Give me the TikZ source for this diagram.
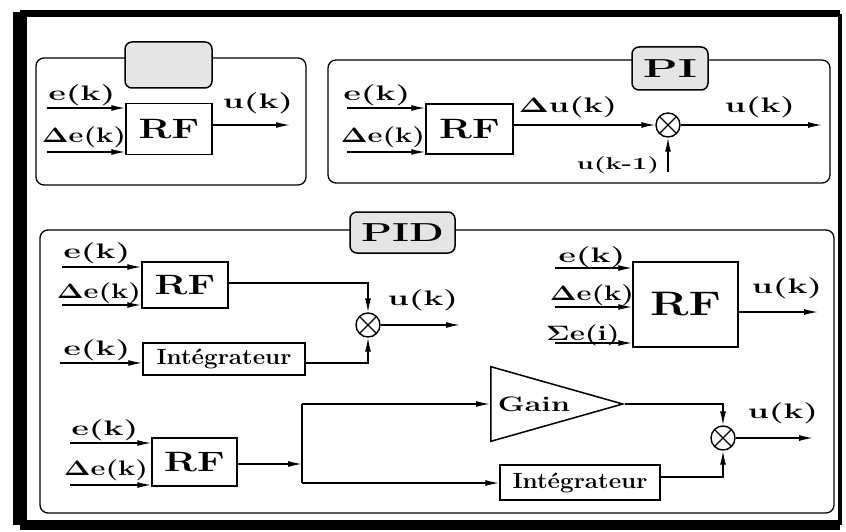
\documentclass[tikz,border=0pt]{standalone}
\usepackage{amsmath}
\usepackage{graphicx}
\usepackage{tikz}
\usetikzlibrary{
  shapes.geometric,
  positioning,
  calc,
  arrows.meta
}
\newcommand{\xw}[2]{\scalebox{#1}[1]{#2}}

\begin{document}
\begin{tikzpicture}[x=1pt, y=-1pt,
    panel/.style={draw, line width=1.3pt, rounded corners=8pt},
    title/.style={draw, line width=1.5pt, rounded corners=7pt, fill=black!10,
                  font=\fontsize{26}{28}\selectfont\bfseries, inner sep=0},
    block/.style={draw, line width=1.5pt, inner sep=0,
                  font=\fontsize{28}{30}\selectfont\bfseries},
    intblock/.style={block, font=\fontsize{22}{24}\selectfont\bfseries},
    sum/.style={circle, draw, line width=1.4pt, minimum size=24pt, inner sep=0,
                path picture={
                  \draw[line width=1.2pt] (path picture bounding box.center) ++(45:12pt) -- ++(225:24pt);
                  \draw[line width=1.2pt] (path picture bounding box.center) ++(135:12pt) -- ++(315:24pt);}},
    lab/.style={inner sep=0, font=\fontsize{21}{23}\selectfont\bfseries},
    arr/.style={line width=1.4pt, -{Latex[length=14pt,width=6pt]}},
    wire/.style={line width=1.4pt},
  ]
  \useasboundingbox (0,0) rectangle (846,532);

  % outer frame
  \draw[line width=7pt] (20,14) -- (840,14);
  \draw[line width=4pt] (840,14) -- (840,525);
  \draw[line width=10pt] (840,525) -- (20,525);
  \draw[line width=14pt] (20,525) -- (20,12);

  % panel without title
  \draw[panel] (36,58) rectangle (306,185);
  \node[title, minimum width=87pt, minimum height=46pt] (t1) at (168.5,65) {};
  \node[block, minimum width=86pt, minimum height=51pt] (rf1) at (169,129) {\xw{1.4}{RF}};
  \coordinate (e1) at (47,108);
  \coordinate (de1) at (47,152);
  \coordinate (o1) at (290,125);
  \draw[arr] (e1) -- (rf1.west |- e1);
  \draw[arr] (de1) -- (rf1.west |- de1);
  \draw[arr] (rf1.east |- o1) -- (o1);
  \node[lab] (le1) at (82,95) {\xw{1.6}{e(k)}};
  \node[lab] (lde1) at (84,137) {\xw{1.38}{$\mathbf{\Delta}$e(k)}};
  \node[lab] (lu1) at (258,103) {\xw{1.6}{u(k)}};

  % PI
  \draw[panel] (328,60) rectangle (830,183);
  \node[title, minimum width=76pt, minimum height=43pt] (t2) at (670,68.5) {\xw{1.75}{PI}};
  \node[block, minimum width=87pt, minimum height=50pt] (rf2) at (469.5,129) {\xw{1.4}{RF}};
  \node[sum] (s2) at (668,125) {};
  \coordinate (e2) at (347,108);
  \coordinate (de2) at (347,152);
  \coordinate (o2) at (822,125);
  \coordinate (p2) at (668,172);
  \draw[arr] (e2) -- (rf2.west |- e2);
  \draw[arr] (de2) -- (rf2.west |- de2);
  \draw[arr] (rf2.east |- s2) -- (s2);
  \draw[arr] (s2) -- (o2);
  \draw[arr] (p2) -- (s2);
  \node[lab] (le2) at (377,95) {\xw{1.6}{e(k)}};
  \node[lab] (lde2) at (383,137) {\xw{1.38}{$\mathbf{\Delta}$e(k)}};
  \node[lab] (ldu2) at (568,107) {\xw{1.55}{$\mathbf{\Delta}$u(k)}};
  \node[lab] (lu2) at (760,107) {\xw{1.6}{u(k)}};
  \node[lab, font=\fontsize{17}{19}\selectfont\bfseries] (lp2) at (618,165) {\xw{1.6}{u(k-1)}};

  % PID
  \draw[panel] (40,230) rectangle (834,513);
  \node[title, minimum width=105pt, minimum height=41pt] (t3) at (402.5,232.5) {\xw{1.55}{PID}};

  \node[block, minimum width=86pt, minimum height=46pt] (rf3) at (185,285) {\xw{1.4}{RF}};
  \node[intblock, minimum width=162pt, minimum height=32pt] (int3) at (224,359) {\xw{1.1}{Int\'egrateur}};
  \node[sum] (s3) at (368,325) {};
  \coordinate (e3) at (62,267);
  \coordinate (de3) at (62,305);
  \coordinate (ei3) at (60,363);
  \coordinate (r3) at (228,283);
  \coordinate (o3) at (460,325);
  \draw[arr] (e3) -- (rf3.west |- e3);
  \draw[arr] (de3) -- (rf3.west |- de3);
  \draw[arr] (ei3) -- (int3.west |- ei3);
  \draw[arr] (rf3.east |- r3) -| (s3.north);
  \draw[arr] (int3.east |- ei3) -| (s3.south);
  \draw[arr] (s3) -- (o3);
  \node[lab] (le3) at (97,253) {\xw{1.6}{e(k)}};
  \node[lab] (lde3) at (99,293) {\xw{1.38}{$\mathbf{\Delta}$e(k)}};
  \node[lab] (lei3) at (97,350) {\xw{1.6}{e(k)}};
  \node[lab] (lu3) at (423,300) {\xw{1.6}{u(k)}};

  \node[block, minimum width=105pt, minimum height=85pt,
        font=\fontsize{34}{36}\selectfont\bfseries] (rf4) at (685.5,304.5) {\xw{1.35}{RF}};
  \coordinate (e4) at (555,268);
  \coordinate (de4) at (555,307);
  \coordinate (se4) at (555,343);
  \coordinate (o4) at (818,312);
  \draw[arr] (e4) -- (rf4.west |- e4);
  \draw[arr] (de4) -- (rf4.west |- de4);
  \draw[arr] (se4) -- (rf4.west |- se4);
  \draw[arr] (rf4.east |- o4) -- (o4);
  \node[lab] (le4) at (592,257) {\xw{1.6}{e(k)}};
  \node[lab] (lde4) at (592,295) {\xw{1.38}{$\mathbf{\Delta}$e(k)}};
  \node[lab] (lse4) at (583,335) {\xw{1.4}{$\mathbf{\Sigma}$e(i)}};
  \node[lab] (lu4) at (787,288) {\xw{1.6}{u(k)}};

  \node[block, minimum width=85pt, minimum height=48pt] (rf5) at (194.5,462) {\xw{1.4}{RF}};
  \node[draw, line width=1.5pt, isosceles triangle, isosceles triangle stretches,
        minimum width=68pt, minimum height=132pt, inner sep=0, anchor=lower side,
        font=\fontsize{21}{23}\selectfont\bfseries] (g5) at (490,404) {\xw{1.45}{Gain}};
  \node[intblock, minimum width=160pt, minimum height=35pt] (int5) at (580,482.5) {\xw{1.1}{Int\'egrateur}};
  \node[sum] (s5) at (723,438) {};
  \coordinate (e5) at (70,443);
  \coordinate (de5) at (70,485);
  \coordinate (b5) at (302,464);
  \coordinate (bt5) at (302,404);
  \coordinate (bb5) at (302,483);
  \coordinate (ri5) at (660,477);
  \coordinate (o5) at (813,438);
  \draw[arr] (e5) -- (rf5.west |- e5);
  \draw[arr] (de5) -- (rf5.west |- de5);
  \draw[arr] (rf5.east |- b5) -- (b5);
  \draw[wire] (bt5) -- (bb5);
  \draw[arr] (bt5) -- (g5.lower side);
  \draw[arr] (bb5) -- (int5.west |- bb5);
  \draw[arr] (g5.apex) -| (s5.north);
  \draw[arr] (int5.east |- ri5) -| (s5.south);
  \draw[arr] (s5) -- (o5);
  \node[lab] (le5) at (105,430) {\xw{1.6}{e(k)}};
  \node[lab] (lde5) at (106,470) {\xw{1.38}{$\mathbf{\Delta}$e(k)}};
  \node[lab] (lu5) at (783,413) {\xw{1.6}{u(k)}};
\end{tikzpicture}
\end{document}
